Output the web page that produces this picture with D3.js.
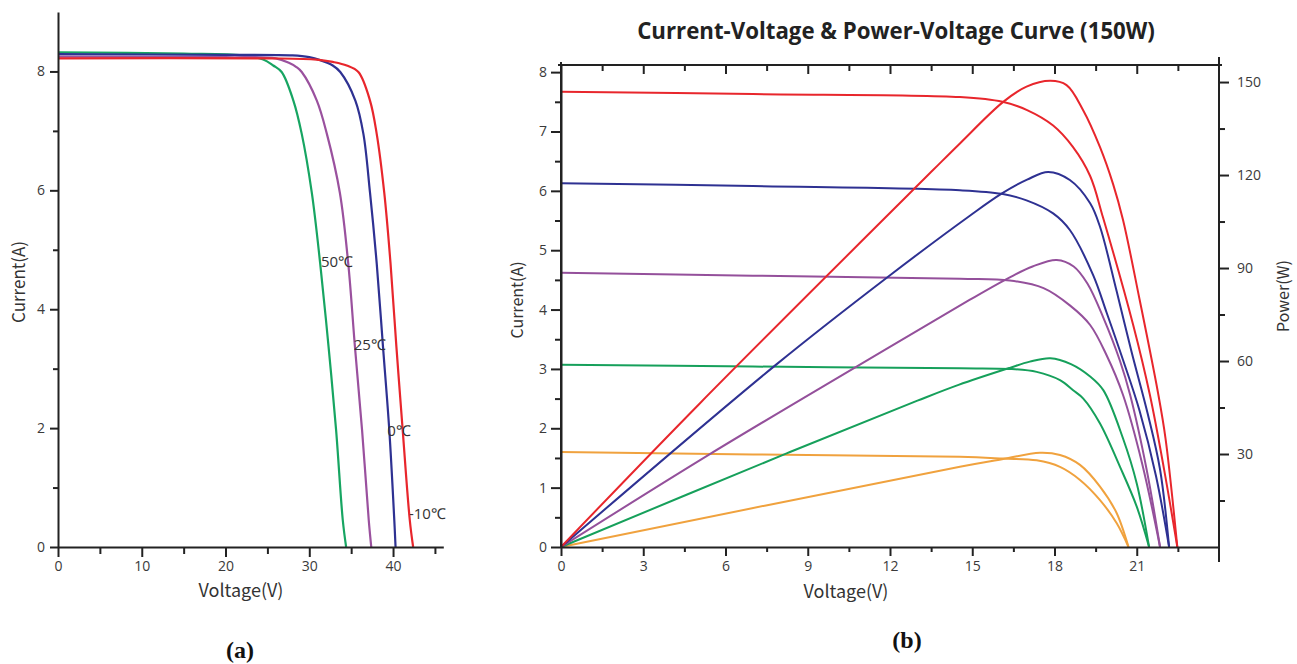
<!DOCTYPE html>
<html>
<head>
<meta charset="utf-8">
<script src="https://cdn.jsdelivr.net/npm/d3@7"></script>
<style>
  body { margin: 0; background: #fff; }
  svg { display: block; }
</style>
</head>
<body>
<svg id="chart" width="1297" height="664"></svg>
<script>
// ---------- (a) I-V curves at different temperatures ----------
var tempLabels = ["-10℃", "0℃", "25℃", "50℃"];
var tempColors = ["#e8262c", "#2e3192", "#9a519e", "#17a562"];
var ivTempM10 = [[0,8.22],[25,8.22],[30.9,8.2],[32.8,8.16],[34.47,8.1],[35.86,7.99],[37.25,7.51],[38.05,6.95],[38.95,5.96],[39.7,4.77],[40.4,3.37],[41.15,1.97],[42.0,0.45],[42.4,0]];
var ivTemp0   = [[0,8.29],[20,8.28],[28,8.27],[30,8.24],[31.3,8.19],[32.8,8.1],[33.7,7.99],[35.5,7.51],[36.46,6.95],[37.25,5.96],[38.05,4.77],[38.8,3.37],[39.55,1.97],[40.15,0.45],[40.3,0]];
var ivTemp25  = [[0,8.25],[20,8.24],[26,8.22],[27.5,8.15],[28.5,8.07],[29.1,7.99],[30.9,7.51],[32.1,6.95],[33.65,5.96],[34.65,4.77],[35.45,3.37],[36.3,1.97],[37.1,0.45],[37.4,0]];
var ivTemp50  = [[0,8.32],[15,8.3],[22,8.27],[24.5,8.2],[25.7,8.1],[26.7,7.99],[28.1,7.51],[29.1,6.95],[30.3,5.96],[31.3,4.77],[32.3,3.37],[33.2,1.97],[34.0,0.45],[34.4,0]];
var tempLabelPos = [[41.9,0.55],[39.3,1.95],[35.3,3.4],[31.4,4.8]];  // [V, I] where each label sits
var aXTicks = [0,10,20,30,40];
var aXMinor = [5,15,25,35,45];
var aYTicks = [0,2,4,6,8];
var aYMinor = [1,3,5,7];

// ---------- (b) I-V & P-V curves at different irradiance ----------
var seriesColors = ["#e8262c", "#2e3192", "#94509b", "#16a05b", "#f0a23e"];
var ivRed    = [[0,7.67],[7,7.63],[14.55,7.58],[16.1,7.5],[17,7.36],[17.95,7.1],[18.67,6.74],[19.3,6.25],[19.77,5.55],[20.87,3.74],[21.48,2.56],[22.0,1.3],[22.48,0]];
var ivBlue   = [[0,6.13],[7,6.08],[14.55,6.01],[16.07,5.95],[16.98,5.84],[17.95,5.62],[18.56,5.34],[19.41,4.58],[19.9,3.95],[20.5,3.15],[21.1,2.3],[21.7,1.2],[22.18,0]];
var ivPurple = [[0,4.62],[7,4.57],[14.55,4.52],[16.37,4.49],[17.6,4.36],[18.56,4.07],[19.3,3.74],[19.9,3.23],[20.5,2.56],[21.2,1.4],[21.85,0]];
var ivGreen  = [[0,3.07],[7,3.04],[14.55,3.01],[16.37,3.0],[17.35,2.95],[18.2,2.81],[18.68,2.64],[19.05,2.5],[19.66,2.08],[20.39,1.35],[21.0,0.68],[21.45,0]];
var ivOrange = [[0,1.6],[7,1.56],[14.55,1.52],[16.13,1.49],[17.35,1.46],[18.2,1.35],[18.93,1.13],[19.66,0.79],[20.27,0.4],[20.7,0]];
var pvRed    = [[0,0],[5.07,46.4],[13.57,121.6],[14.55,130.2],[16.13,143.6],[16.98,148.5],[17.85,150.4],[18.44,149],[19.04,141],[19.66,129],[20.14,117],[20.5,105.5],[21.1,80],[21.77,50],[22.05,35],[22.48,0]];
var pvBlue   = [[0,0],[7.87,59],[11.93,87.2],[14.9,106.8],[16.07,114],[17,118.5],[17.77,121],[18.56,118.4],[19.3,110.9],[19.66,103.3],[20.27,82.4],[20.81,63],[21.4,43],[21.85,25],[22.18,0]];
var pvPurple = [[0,0],[5.4,29.8],[10.78,58.2],[14.9,79.7],[16.37,87],[17.2,90.5],[18.08,92.6],[18.7,90.5],[19.2,85],[19.78,74],[20.39,60],[20.76,49],[21.36,25],[21.85,0]];
var pvGreen  = [[0,0],[8.23,30.2],[13,47.2],[14.5,52.3],[16.37,57.8],[17.1,59.8],[17.85,60.9],[18.6,59],[19.3,55],[19.78,50.6],[20.5,35],[21.0,20.5],[21.45,0]];
var pvOrange = [[0,0],[14.55,25.9],[16.13,28.4],[17.47,30.4],[18.2,29.7],[18.93,26.5],[19.66,19.5],[20.27,10.9],[20.7,0]];
var bXTicks = [0,3,6,9,12,15,18,21];
var bXMinor = [1.5,4.5,7.5,10.5,13.5,16.5,19.5,22.5];
var bIMajor = [0,1,2,3,4,5,6,7,8];
var bIMinor = [0.5,1.5,2.5,3.5,4.5,5.5,6.5,7.5];
var bPMajor = [30,60,90,120,150];
var bPMinor = [15,45,75,105,135];

var svg = d3.select("#chart");
var tickFont = "'Open Sans', sans-serif";
var labelFont = "'Noto Sans CJK SC', 'Noto Sans', sans-serif";
var smooth = d3.curveCatmullRom.alpha(0.5);

function styleAxis(g, fs)
{
  g.select(".domain").attr("stroke", "#222").attr("stroke-width", 2);
  g.selectAll(".tick line").attr("stroke", "#222").attr("stroke-width", 2);
  g.selectAll(".tick text").attr("fill", "#3a3a3a").style("font-family", tickFont).style("font-size", fs + "px");
}

function minorAxis(axis, g, size)
{
  g.call(axis.tickSize(size).tickFormat(""));
  g.select(".domain").remove();
  g.selectAll(".tick line").attr("stroke", "#222").attr("stroke-width", 2);
}

// =================== chart (a) ===================
var xA = d3.scaleLinear().domain([0, 46]).range([58, 443.3]);
var yA = d3.scaleLinear().domain([0, 9]).range([547, 12]);

var gA = svg.append("g");

var lineA = d3.line().x(function (d) {return xA(d[0]);}).y(function (d) {return yA(d[1]);}).curve(smooth);
var aCurves = [ivTempM10, ivTemp0, ivTemp25, ivTemp50];
// draw 50 first so the cooler curves sit on top, like the reference
for (var i = aCurves.length - 1; i >= 0; i--)
{
  gA.append("path").attr("d", lineA(aCurves[i])).attr("fill", "none")
    .attr("stroke", tempColors[i]).attr("stroke-width", 2.2);
}

var ayMaj = gA.append("g").attr("transform", "translate(" + xA(0) + ",0)")
  .call(d3.axisLeft(yA).tickValues(aYTicks).tickSize(8).tickSizeOuter(0).tickPadding(5));
styleAxis(ayMaj, 14);
minorAxis(d3.axisLeft(yA).tickValues(aYMinor), gA.append("g").attr("transform", "translate(" + xA(0) + ",0)"), 5);

var axMaj = gA.append("g").attr("transform", "translate(0," + yA(0) + ")")
  .call(d3.axisBottom(xA).tickValues(aXTicks).tickSize(10).tickSizeOuter(0).tickPadding(4));
styleAxis(axMaj, 14);
minorAxis(d3.axisBottom(xA).tickValues(aXMinor), gA.append("g").attr("transform", "translate(0," + yA(0) + ")"), 7);

tempLabels.forEach(function (t, i)
{
  gA.append("text").attr("x", xA(tempLabelPos[i][0])).attr("y", yA(tempLabelPos[i][1]) + 5)
    .attr("fill", "#333").style("font-family", tickFont).style("font-size", "15px").text(t);
});

gA.append("text").attr("transform", "translate(25,282) rotate(-90)").attr("text-anchor", "middle")
  .attr("fill", "#333").style("font-family", labelFont).style("font-size", "17px").text("Current(A)");
gA.append("text").attr("x", 241).attr("y", 597).attr("text-anchor", "middle")
  .attr("fill", "#333").style("font-family", labelFont).style("font-size", "18px").text("Voltage(V)");
gA.append("text").attr("x", 240).attr("y", 658).attr("text-anchor", "middle")
  .attr("fill", "#111").style("font-family", "'Liberation Serif', serif").style("font-weight", "bold")
  .style("font-size", "24px").text("(a)");

// =================== chart (b) ===================
var xB = d3.scaleLinear().domain([0, 24]).range([561, 1219]);
var yI = d3.scaleLinear().domain([0, 8.12]).range([547, 65]);
var yP = d3.scaleLinear().domain([0, 155.5]).range([547, 65]);

var gB = svg.append("g");

var lineI = d3.line().x(function (d) {return xB(d[0]);}).y(function (d) {return yI(d[1]);}).curve(smooth);
var lineP = d3.line().x(function (d) {return xB(d[0]);}).y(function (d) {return yP(d[1]);}).curve(smooth);
var ivB = [ivRed, ivBlue, ivPurple, ivGreen, ivOrange];
var pvB = [pvRed, pvBlue, pvPurple, pvGreen, pvOrange];
for (var k = ivB.length - 1; k >= 0; k--)
{
  gB.append("path").attr("d", lineI(ivB[k])).attr("fill", "none").attr("stroke", seriesColors[k]).attr("stroke-width", 2);
  gB.append("path").attr("d", lineP(pvB[k])).attr("fill", "none").attr("stroke", seriesColors[k]).attr("stroke-width", 2);
}

// left current axis
var biMaj = gB.append("g").attr("transform", "translate(" + xB(0) + ",0)")
  .call(d3.axisLeft(yI).tickValues(bIMajor).tickSize(10).tickSizeOuter(0).tickPadding(4));
styleAxis(biMaj, 14);
minorAxis(d3.axisLeft(yI).tickValues(bIMinor), gB.append("g").attr("transform", "translate(" + xB(0) + ",0)"), 6);
gB.append("line").attr("x1", xB(0)).attr("x2", xB(0)).attr("y1", yI(0)).attr("y2", yI.range()[1] - 3)
  .attr("stroke", "#222").attr("stroke-width", 2);

// right power axis
var bpMaj = gB.append("g").attr("transform", "translate(" + xB(24) + ",0)")
  .call(d3.axisRight(yP).tickValues(bPMajor).tickSize(10).tickSizeOuter(0).tickPadding(8));
styleAxis(bpMaj, 14);
bpMaj.select(".domain").remove();
minorAxis(d3.axisRight(yP).tickValues(bPMinor), gB.append("g").attr("transform", "translate(" + xB(24) + ",0)"), 6);
gB.append("line").attr("x1", xB(24)).attr("x2", xB(24)).attr("y1", yP(0) + 15).attr("y2", yP.range()[1] - 8)
  .attr("stroke", "#222").attr("stroke-width", 2);

// bottom voltage axis
var bxMaj = gB.append("g").attr("transform", "translate(0," + yI(0) + ")")
  .call(d3.axisBottom(xB).tickValues(bXTicks).tickSize(9).tickSizeOuter(0).tickPadding(5));
styleAxis(bxMaj, 14);
minorAxis(d3.axisBottom(xB).tickValues(bXMinor), gB.append("g").attr("transform", "translate(0," + yI(0) + ")"), 5);

// top frame with inward ticks
var topY = yI.range()[1];
minorAxis(d3.axisBottom(xB).tickValues(bXTicks.slice(1)), gB.append("g").attr("transform", "translate(0," + topY + ")"), 9);
minorAxis(d3.axisBottom(xB).tickValues(bXMinor), gB.append("g").attr("transform", "translate(0," + topY + ")"), 6);
gB.append("line").attr("x1", xB(0) - 3).attr("x2", xB(24) + 3).attr("y1", topY).attr("y2", topY)
  .attr("stroke", "#222").attr("stroke-width", 2);

var title = gB.append("text").attr("x", 896).attr("y", 39).attr("text-anchor", "middle")
  .attr("fill", "#222").style("font-family", tickFont).style("font-weight", "bold").style("font-size", "20px")
  .text("Current-Voltage & Power-Voltage Curve (150W)");
var tw = title.node().getComputedTextLength();
title.style("font-size", (20 * 518 / tw).toFixed(2) + "px");

gB.append("text").attr("transform", "translate(523,300) rotate(-90)").attr("text-anchor", "middle")
  .attr("fill", "#333").style("font-family", labelFont).style("font-size", "16px").text("Current(A)");
gB.append("text").attr("transform", "translate(1289,296) rotate(-90)").attr("text-anchor", "middle")
  .attr("fill", "#333").style("font-family", labelFont).style("font-size", "16px").text("Power(W)");
gB.append("text").attr("x", 846).attr("y", 598).attr("text-anchor", "middle")
  .attr("fill", "#333").style("font-family", labelFont).style("font-size", "18px").text("Voltage(V)");
gB.append("text").attr("x", 907).attr("y", 648).attr("text-anchor", "middle")
  .attr("fill", "#111").style("font-family", "'Liberation Serif', serif").style("font-weight", "bold")
  .style("font-size", "24px").text("(b)");
</script>
</body>
</html>
